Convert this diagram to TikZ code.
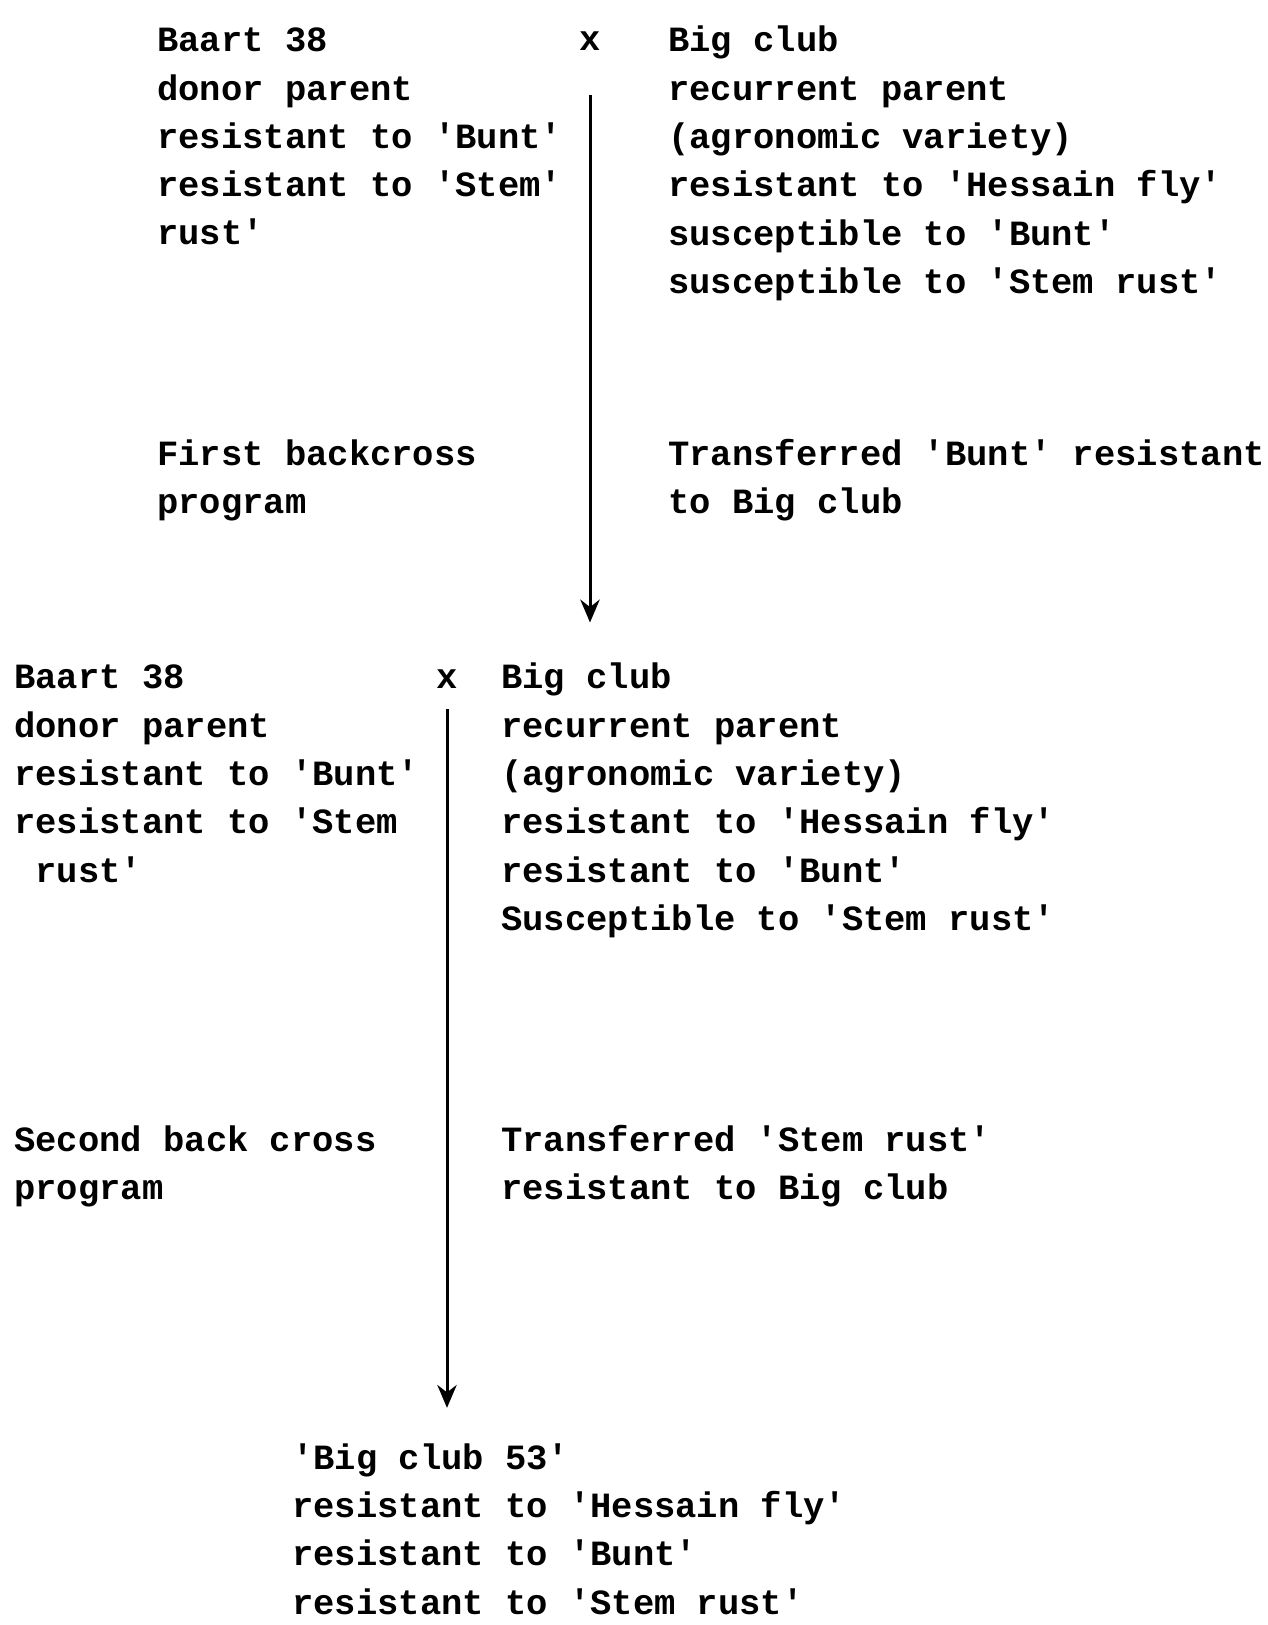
\documentclass[tikz,border=0pt]{standalone}
\usepackage{fontspec}
\setmonofont{Liberation Mono}
\usetikzlibrary{positioning, arrows.meta}

\begin{document}
\begin{tikzpicture}[
  x=0.02cm, y=-0.02cm,
  entry/.style={
    anchor=base west,
    inner sep=0pt,
    align=left,
    font=\ttfamily\bfseries\fontsize{20.2}{27.5}\selectfont
  },
  cross/.style={
    anchor=base,
    inner sep=0pt,
    font=\ttfamily\bfseries\fontsize{20.2}{27.5}\selectfont
  },
  arrow/.style={-{Stealth[length=13pt, width=11pt]}, line width=1.7pt, draw=black}
]
\useasboundingbox (0,0) rectangle (1267,1625);

% first cross (nodes sit on the baseline of their last line)
\node[entry] (donor1) at (157,245) {Baart 38\\donor parent\\resistant to 'Bunt'\\resistant to 'Stem'\\rust'};
\node[cross] (cross1) at (590,51) {x};
\node[entry] (recurrent1) at (668,293.5) {Big club\\recurrent parent\\(agronomic variety)\\resistant to 'Hessain fly'\\susceptible to 'Bunt'\\susceptible to 'Stem rust'};

\node[entry] (program1) at (157,513.5) {First backcross\\program};
\node[entry] (result1) at (668,513.5) {Transferred 'Bunt' resistant\\to Big club};

% second cross
\node[entry] (donor2) at (14,882) {Baart 38\\donor parent\\resistant to 'Bunt'\\resistant to 'Stem\\~rust'};
\node[cross] (cross2) at (447,688) {x};
\node[entry] (recurrent2) at (501,930.5) {Big club\\recurrent parent\\(agronomic variety)\\resistant to 'Hessain fly'\\resistant to 'Bunt'\\Susceptible to 'Stem rust'};

\node[entry] (program2) at (14,1199.5) {Second back cross\\program};
\node[entry] (result2) at (501,1199.5) {Transferred 'Stem rust'\\resistant to Big club};

% final variety
\node[entry] (variety) at (292,1614) {'Big club 53'\\resistant to 'Hessain fly'\\resistant to 'Bunt'\\resistant to 'Stem rust'};

\draw[arrow, shorten <=25pt, shorten >=24pt] (cross1.south) -- (cross1.south |- donor2.north);
\draw[arrow, shorten <=12pt, shorten >=20pt] (cross2.south) -- (cross2.south |- variety.north);

\end{tikzpicture}
\end{document}
